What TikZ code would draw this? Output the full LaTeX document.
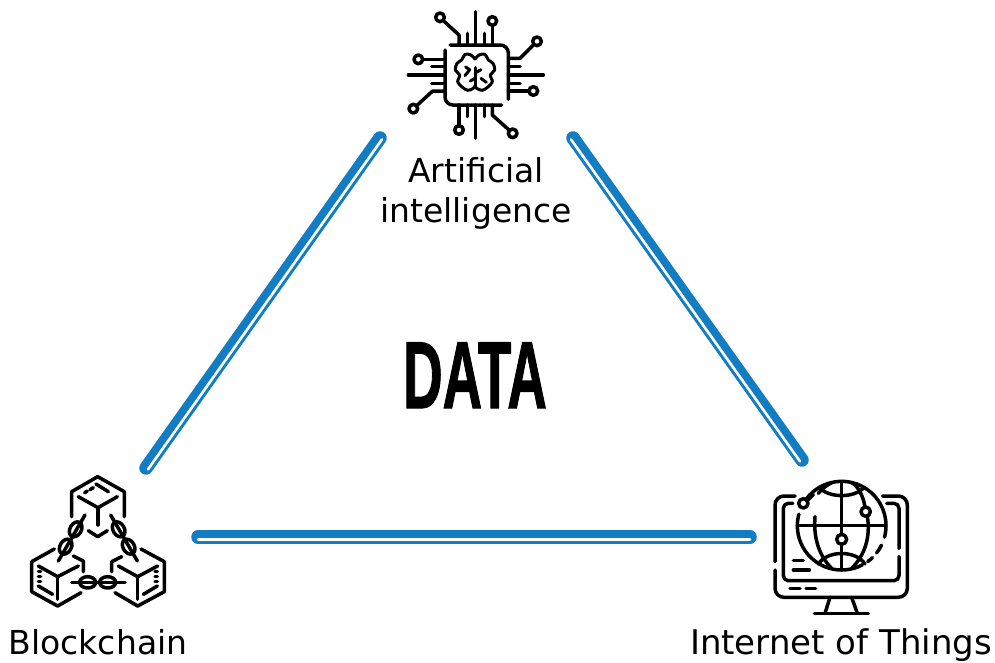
\documentclass[tikz,border=0pt]{standalone}
\usepackage{fontspec}
\setmainfont{DejaVu Sans}
\newfontfamily\datafont[BoldFeatures={FakeBold=1.5}]{Liberation Sans}
\tikzset{
  icon/.style={line width=3.5pt,line cap=round,line join=round,draw=black},
  iconthin/.style={line width=3pt,line cap=round,line join=round,draw=black},
  linkblue/.style={draw=linkcol,line width=13.5pt,line cap=round},
  linkwhite/.style={draw=white,line width=2.6pt,line cap=round},
  labeltext/.style={font=\fontsize{33}{40}\selectfont,align=center,text=black,inner sep=0pt},
}
\definecolor{linkcol}{HTML}{127DC2}
\begin{document}
\begin{tikzpicture}[x=1pt,y=-1pt]
\useasboundingbox (0,0) rectangle (995,662);
\fill[white] (0,0) rectangle (995,662);

% connector ends
\coordinate (leftA) at (146,468);
\coordinate (leftB) at (380,138);
\coordinate (rightA) at (573,138);
\coordinate (rightB) at (802,460);
\coordinate (botA) at (198,537);
\coordinate (botB) at (750,537);

\draw[linkblue] (leftA) -- (leftB);
\draw[linkblue] (rightA) -- (rightB);
\draw[linkblue] (botA) -- (botB);
\draw[linkwhite,transform canvas={shift={(2pt,-1.4pt)}}] (leftA) -- (leftB);
\draw[linkwhite,transform canvas={shift={(-2pt,-1.4pt)}}] (rightA) -- (rightB);
\draw[linkwhite,transform canvas={shift={(0pt,-2.2pt)}}] (botA) -- (botB);

% labels
\node[labeltext,anchor=base] (ai1) at (476,182) {Artificial};
\node[labeltext,anchor=base] (ai2) at (476,222) {intelligence};
\node[labeltext,anchor=base] (bc) at (98,654) {Blockchain};
\node[labeltext,anchor=base,font=\fontsize{34}{41}\selectfont] (iot) at (841,654) {Internet of Things};
\node[inner sep=0pt,anchor=base,xscale=.575,transform shape] (data) at (475,408)
  {\datafont\bfseries\fontsize{95}{100}\selectfont DATA};

% ---------- AI chip
\begin{scope}[shift={(390,0)},scale=.33333]
  \draw[icon,rounded corners=8pt] (180,135) -- (355,135) -- (355,298);
  \draw[icon,rounded corners=8pt] (165,150) -- (165,315) -- (335,315);
  % top pins
  \draw[icon] (257,35) -- (257,135);
  \draw[icon] (232,100) -- (232,135);
  \draw[icon] (283,100) -- (283,135);
  \draw[icon] (307,76) -- (307,135);
  \draw[icon] (307,63) circle[radius=13];
  \draw[icon] (150,52) circle[radius=13];
  \draw[icon] (160,62) -- (207,105) -- (207,135);
  % right pins
  \draw[icon] (355,225) -- (460,225);
  \draw[icon] (355,200) -- (390,200);
  \draw[icon] (355,250) -- (390,250);
  \draw[icon] (360,175) -- (390,175) -- (431,134);
  \draw[icon] (441,124) circle[radius=13];
  \draw[icon] (355,273) -- (417,273);
  \draw[icon] (430,273) circle[radius=13];
  % left pins
  \draw[icon] (55,225) -- (165,225);
  \draw[icon] (125,200) -- (165,200);
  \draw[icon] (125,250) -- (165,250);
  \draw[icon] (98,178) -- (165,178);
  \draw[icon] (85,178) circle[radius=13];
  \draw[icon] (165,273) -- (128,273) -- (80,317);
  \draw[icon] (70,326) circle[radius=13];
  % bottom pins
  \draw[icon] (257,315) -- (257,415);
  \draw[icon] (232,315) -- (232,350);
  \draw[icon] (283,315) -- (283,350);
  \draw[icon] (207,315) -- (207,377);
  \draw[icon] (207,390) circle[radius=13];
  \draw[icon] (307,315) -- (307,345) -- (358,391);
  \draw[icon] (368,400) circle[radius=13];
\end{scope}
% brain
\begin{scope}[shift={(445,45)},scale=.33333]
  \draw[iconthin] plot[smooth,tension=.55] coordinates {(90,42) (78,30) (60,28) (50,45) (36,55) (31,75) (44,90) (38,110) (50,125) (68,136) (85,130) (90,122)};
  \draw[iconthin] plot[smooth,tension=.55] coordinates {(90,42) (102,30) (120,28) (130,45) (144,55) (149,75) (136,90) (142,110) (130,125) (112,136) (95,130) (90,122)};
  \draw[iconthin] (90,68) -- (90,122);
  \draw[iconthin] (90,84) -- (108,74);
  \draw[iconthin] (90,100) -- (76,108);
  \draw[iconthin] (108,100) -- (124,112);
  \draw[iconthin] (62,66) -- (74,74) -- (60,92);
\end{scope}

% ---------- Blockchain
\begin{scope}[shift={(10,460)},scale=.33333]
  % top cube
  \draw[icon] (185,170) -- (185,95) -- (263,50) -- (343,95) -- (343,170);
  \draw[icon] (205,110) -- (264,143) -- (322,110);
  \draw[icon] (264,143) -- (264,195);
  \draw[icon] (258,72) -- (295,95);
  \draw[icon] (224,98) -- (232,93);
  \draw[icon] (240,89) -- (250,83);
  \draw[icon] (235,212) -- (263,230) -- (292,212);
  % left cube
  \draw[icon] (133,267) -- (65,305) -- (65,395) -- (143,438) -- (213,398);
  \draw[icon] (85,318) -- (143,350) -- (205,318);
  \draw[icon] (143,350) -- (143,418);
  \draw[icon] (190,288) -- (220,303) -- (220,335);
  \draw[icon] (85,335) -- (92,335);
  \draw[icon] (85,350) -- (92,350);
  \draw[icon] (85,365) -- (92,365);
  \draw[icon] (85,378) -- (128,403);
  % right cube
  \draw[icon] (393,267) -- (463,305) -- (463,395) -- (383,438) -- (315,398);
  \draw[icon] (325,318) -- (383,350) -- (443,318);
  \draw[icon] (383,350) -- (383,418);
  \draw[icon] (335,290) -- (305,305) -- (305,335);
  \draw[icon] (435,335) -- (442,335);
  \draw[icon] (435,350) -- (442,350);
  \draw[icon] (435,365) -- (442,365);
  \draw[icon] (442,378) -- (400,403);
  % chains
  \draw[icon] (225,165) -- (145,303);
  \draw[icon] (197,208) circle[x radius=24,y radius=17,rotate=60];
  \draw[icon] (167,260) circle[x radius=24,y radius=17,rotate=60];
  \draw[icon] (302,165) -- (382,303);
  \draw[icon] (326,208) circle[x radius=24,y radius=17,rotate=-60];
  \draw[icon] (356,260) circle[x radius=24,y radius=17,rotate=-60];
  \draw[icon] (185,367) -- (345,367);
  \draw[icon] (233,367) circle[x radius=24,y radius=17];
  \draw[icon] (293,367) circle[x radius=24,y radius=17];
\end{scope}

% ---------- Monitor + globe
\begin{scope}[shift={(750,460)},scale=.33333]
  \draw[icon,rounded corners=9pt] (135,108) -- (75,108) -- (75,305);
  \draw[icon,rounded corners=9pt] (75,330) -- (75,412) -- (472,412) -- (472,108) -- (398,108);
  \draw[icon,rounded corners=5pt] (128,130) -- (100,130) -- (100,362) -- (447,362) -- (447,290);
  \draw[icon,rounded corners=5pt] (447,265) -- (447,130) -- (410,130);
  \draw[icon] (130,302) -- (160,302);
  \draw[icon] (130,330) -- (178,330);
  \draw[icon] (120,385) -- (150,385);
  \draw[icon] (168,385) -- (197,385);
  \draw[icon] (240,412) -- (225,460);
  \draw[icon] (305,412) -- (322,460);
  \draw[icon] (193,460) -- (355,460);
  % globe outline with gaps
  \draw[icon] (275,197) ++(62:133) arc[start angle=62,end angle=195,radius=133];
  \draw[icon] (275,197) ++(-143:133) arc[start angle=-143,end angle=15,radius=133];
  \draw[icon] (275,197) ++(26:133) arc[start angle=26,end angle=38,radius=133];
  \draw[icon] (275,197) ++(46:133) arc[start angle=46,end angle=54,radius=133];
  \draw[icon] (275,65) -- (275,222);
  \draw[icon] (275,252) -- (275,330);
  \draw[icon] (275,238) circle[radius=15];
  \draw[icon] (142,197) -- (408,197);
  % latitudes
  \draw[icon] (208,82) .. controls (235,115) and (315,115) .. (342,82);
  \draw[icon] (205,312) .. controls (232,270) and (318,270) .. (345,312);
  % meridians
  \draw[icon] (195,170) .. controls (190,230) and (205,285) .. (245,325);
  \draw[icon] (205,100) .. controls (213,90) and (225,78) .. (245,68);
  \draw[icon] (352,170) .. controls (362,230) and (345,285) .. (305,325);
  \draw[icon] (305,68) .. controls (325,78) and (340,110) .. (345,141);
  % nodes on the globe
  \fill[white] (347,155) circle[radius=14];
  \draw[icon] (347,155) circle[radius=14];
  \fill[white] (160,130) circle[radius=14];
  \draw[icon] (160,130) circle[radius=14];
  \draw[icon] (172,122) -- (190,104);
\end{scope}
\end{tikzpicture}
\end{document}
